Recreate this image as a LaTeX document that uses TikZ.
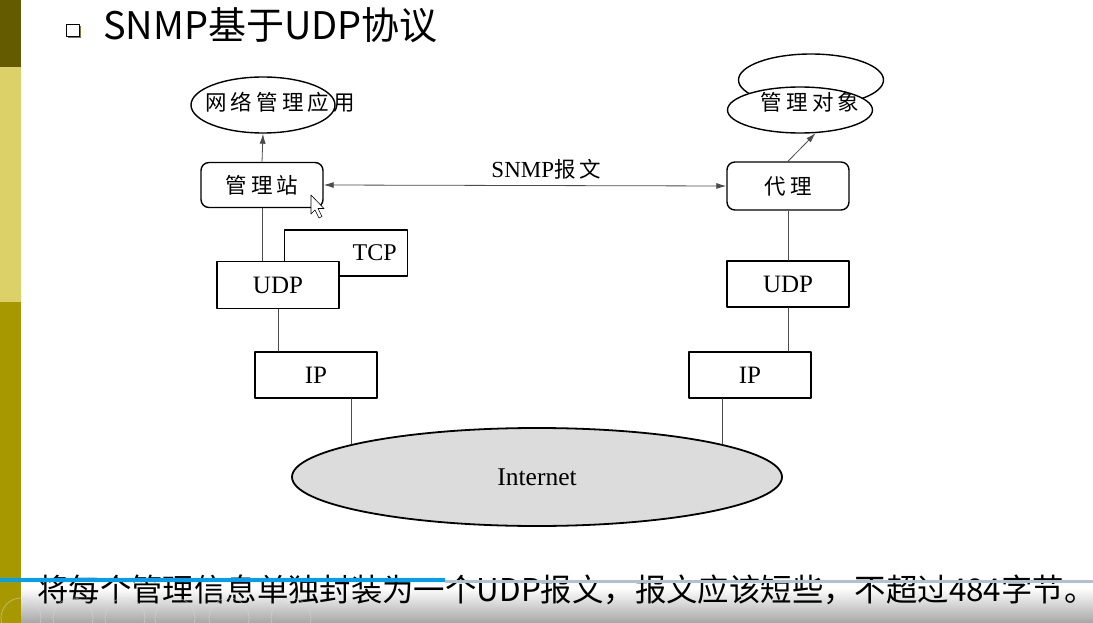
\documentclass[tikz,border=0pt]{standalone}
\usepackage{fontspec}
\setmainfont{Liberation Serif}
\newfontfamily\cjk{Noto Sans CJK SC}
\newfontfamily\cjkwide[LetterSpace=19]{Noto Sans CJK SC}
\usetikzlibrary{arrows.meta, calc, shapes.geometric}

\definecolor{sideDark}{HTML}{645A00}
\definecolor{sideLight}{HTML}{DCD068}
\definecolor{sideMid}{HTML}{A89800}
\definecolor{progBlue}{HTML}{00A0F0}
\definecolor{progGrey}{HTML}{B4C0CC}
\definecolor{netGrey}{HTML}{DCDCDC}

\begin{document}
\begin{tikzpicture}[x=1pt, y=-1pt, line cap=round, line join=round,
	box/.style={draw, line width=1.4pt, fill=white, minimum width=122pt,
		minimum height=46pt, inner sep=0pt, font=\fontsize{25}{27}\selectfont},
	rbox/.style={box, rounded corners=8pt},
	oval/.style={ellipse, draw, line width=1.4pt, fill=white, inner sep=0pt},
	link/.style={line width=0.8pt, draw=black!70},
	tip/.style={-{Latex[length=10pt,width=6pt]}},
	lbl/.style={font=\fontsize{21.5}{24}\selectfont\cjkwide}
	]
	\useasboundingbox (0,0) rectangle (1093,623);
	\fill[white] (0,0) rectangle (1093,623);
	
	% side bar and bottom strip
	\fill[sideDark] (0,0) rectangle (21,67);
	\fill[sideLight] (0,67) rectangle (21,302);
	\fill[sideMid] (0,302) rectangle (21,623);
	\shade[top color=white, bottom color=black!35] (21,588) rectangle (1093,623);
	
	% title
	\fill[sideDark!80] (68,26) rectangle (81,38);
	\draw[fill=white, line width=0.8pt] (66,24) rectangle (79,36);
	\node[anchor=base west, inner sep=0pt, font=\fontsize{38}{40}\selectfont\cjk] (title) at (103,40) {SNMP基于UDP协议};
	
	% upper parts
	\node[oval, minimum width=144pt, minimum height=56pt] (app) at (263,105) {};
	\node[lbl] (applbl) at (280,102) {网络管理应用};
	\node[oval, minimum width=145pt, minimum height=52pt] (objback) at (811,80) {};
	\node[oval, minimum width=145pt, minimum height=46pt] (obj) at (800,110) {};
	\node[lbl] (objlbl) at (810,102) {管理对象};
	
	\node[rbox, minimum height=45pt, lbl] (mgr) at (262,185) {管理站};
	\node[rbox, minimum height=48pt, lbl] (agent) at (788,186) {代理};
	
	% protocol boxes
	\node[box, minimum width=123pt] (tcp) at (346,253) {};
	\node[anchor=east] (tcplbl) at ([xshift=-8pt]tcp.east) {\fontsize{24}{26}\selectfont TCP};
	\node[box, minimum height=47pt] (udpL) at (278,285) {UDP};
	\node[box] (ipL) at (316,375) {IP};
	\node[box] (udpR) at (788,284) {UDP};
	\node[box] (ipR) at (750,375) {IP};
	
	\node[ellipse, draw, line width=1.8pt, fill=netGrey, minimum width=490pt,
		minimum height=98pt, font=\fontsize{25.5}{27}\selectfont] (net) at (537,477) {Internet};
	
	% connectors
	\draw[link, tip] (mgr.north) -- (app.south);
	\draw[link, tip] (agent.north) -- (obj.-56);
	\draw[link, {Latex[length=10pt,width=6pt]}-{Latex[length=10pt,width=6pt]}] (mgr.east) -- (agent.west)
		node[pos=0.553, above=3pt, font=\fontsize{23}{25}\selectfont] (msg) {SNMP{\fontsize{21.5}{24}\selectfont\cjkwide 报文}};
	\draw[link] (mgr.south) -- (mgr.south |- udpL.north);
	\draw[link] (udpL.south) -- (udpL.south |- ipL.north);
	\draw[link] (ipL.south -| net.170) -- (net.170);
	\draw[link] (agent.south) -- (udpR.north);
	\draw[link] (udpR.south) -- (udpR.south |- ipR.north);
	\draw[link] (ipR.south -| net.10) -- (net.10);
	
	% mouse pointer
	\draw[fill=white, line width=0.6pt] (311,195) -- ++(0,19) -- ++(4,-4) -- ++(4,8)
		-- ++(3,-1.5) -- ++(-4,-8) -- ++(6,0) -- cycle;
	
	% caption and player bar
	\node[anchor=base west, inner sep=0pt, font=\fontsize{31.4}{33}\selectfont\cjk] (note) at (37,601)
		{将每个管理信息单独封装为一个UDP报文，报文应该短些，不超过484字节。};
	\draw[line width=3pt, progGrey, line cap=butt] (445,581) -- (1093,581);
	\draw[line width=4pt, progBlue, line cap=butt] (0,580) -- (445,580);
	\foreach \cx in {21,73,125,175,229,291}
		\draw[white!85!black, line width=0.8pt, opacity=0.5] (\cx,618) circle (20);
\end{tikzpicture}
\end{document}
